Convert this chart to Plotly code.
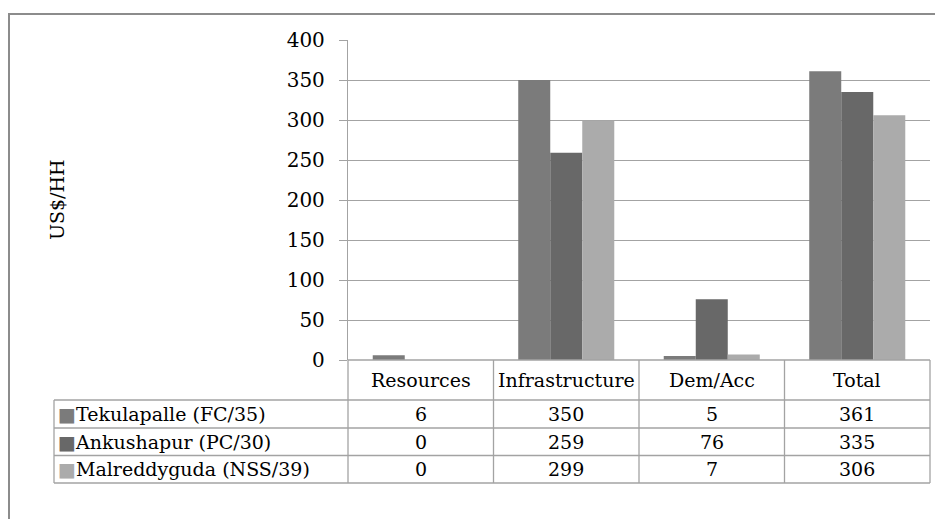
import plotly.graph_objects as go

# categories and series (US$ per household)
categories = ["Resources", "Infrastructure", "Dem/Acc", "Total"]
series_names = ["Tekulapalle (FC/35)", "Ankushapur (PC/30)", "Malreddyguda (NSS/39)"]
tekulapalle = [6, 350, 5, 361]
ankushapur = [0, 259, 76, 335]
malreddyguda = [0, 299, 7, 306]
y_ticks = [0, 50, 100, 150, 200, 250, 300, 350, 400]

colors = ["#7b7b7b", "#686868", "#ababab"]
line_gray = "#a3a3a3"
serif = "DejaVu Serif"

OFF = 8  # page body margin
W, H = 943 - OFF, 519 - OFF
L, R, T, B = 348 - OFF, 13, 40 - OFF, 159
plot_w = W - L - R
plot_h = H - T - B


def px(xp):
    # screenshot pixel -> paper x
    return (xp - OFF - L) / plot_w


def py(yp):
    # screenshot pixel -> paper y
    return (H - B - (yp - OFF)) / plot_h


fig = go.Figure()
for name, vals, c in zip(series_names, [tekulapalle, ankushapur, malreddyguda], colors):
    fig.add_trace(go.Bar(x=categories, y=vals, name=name, marker_color=c,
                         marker_line_width=0, showlegend=False))

# table geometry (pixel rows)
row_lines = [360, 400, 428, 455.5, 483]
row_centers = [(row_lines[i] + row_lines[i + 1]) / 2 for i in range(4)]

shapes = []
# outer frame (right and bottom edges fall outside the picture)
shapes.append(dict(type="rect", xref="paper", yref="paper", x0=px(9), x1=px(960),
                   y0=py(540), y1=py(14), line=dict(color="#8c8c8c", width=2)))
# header top line
shapes.append(dict(type="line", xref="paper", yref="paper", x0=0, x1=1,
                   y0=py(360), y1=py(360), line=dict(color=line_gray, width=1.3)))
for yl in row_lines[1:]:
    shapes.append(dict(type="line", xref="paper", yref="paper", x0=px(54), x1=1,
                       y0=py(yl), y1=py(yl), line=dict(color=line_gray, width=1.3)))
for i in range(len(categories) + 1):
    xv = i / len(categories)
    shapes.append(dict(type="line", xref="paper", yref="paper", x0=xv, x1=xv,
                       y0=py(360), y1=py(483), line=dict(color=line_gray, width=1.3)))
shapes.append(dict(type="line", xref="paper", yref="paper", x0=px(54), x1=px(54),
                   y0=py(400), y1=py(483), line=dict(color=line_gray, width=1.3)))

txt_font = dict(family=serif, size=19, color="black")
annotations = []
for cat in categories:
    annotations.append(dict(x=cat, xref="x", y=py(row_centers[0]), yref="paper",
                            xanchor="center", yanchor="middle",
                            text=cat, showarrow=False, font=txt_font))
for r, (name, vals, c) in enumerate(zip(series_names,
                                       [tekulapalle, ankushapur, malreddyguda], colors)):
    yc = py(row_centers[r + 1])
    annotations.append(dict(x=px(56), xref="paper", y=yc, yref="paper",
                            xanchor="left", yanchor="middle",
                            text=f"<span style='color:{c}'>■</span>{name}",
                            showarrow=False, font=txt_font))
    for cat, v in zip(categories, vals):
        annotations.append(dict(x=cat, xref="x", y=yc, yref="paper",
                                xanchor="center", yanchor="middle",
                                text=str(v), showarrow=False, font=txt_font))
annotations.append(dict(x=px(57), xref="paper", y=py(200), yref="paper",
                        xanchor="center", yanchor="middle", text="US$/HH",
                        textangle=-90, showarrow=False, font=txt_font))

fig.update_layout(
    width=W, height=H,
    margin=dict(l=L, r=R, t=T, b=B),
    paper_bgcolor="white", plot_bgcolor="white",
    font=dict(family=serif),
    barmode="group", bargap=0.34, bargroupgap=0,
    xaxis=dict(showticklabels=False, showgrid=False, ticks="", showline=False,
               zeroline=False, range=[-0.5, 3.5]),
    yaxis=dict(range=[0, 400], tickvals=y_ticks, showgrid=True, gridcolor=line_gray,
               gridwidth=1.3, showline=True, linecolor=line_gray, linewidth=1.3,
               ticks="outside", ticklen=8, tickcolor=line_gray, tickwidth=1.3,
               zeroline=False, ticklabelstandoff=10,
               tickfont=dict(family=serif, size=20, color="black")),
    shapes=shapes,
    annotations=annotations,
)

fig.write_html("out.html")
